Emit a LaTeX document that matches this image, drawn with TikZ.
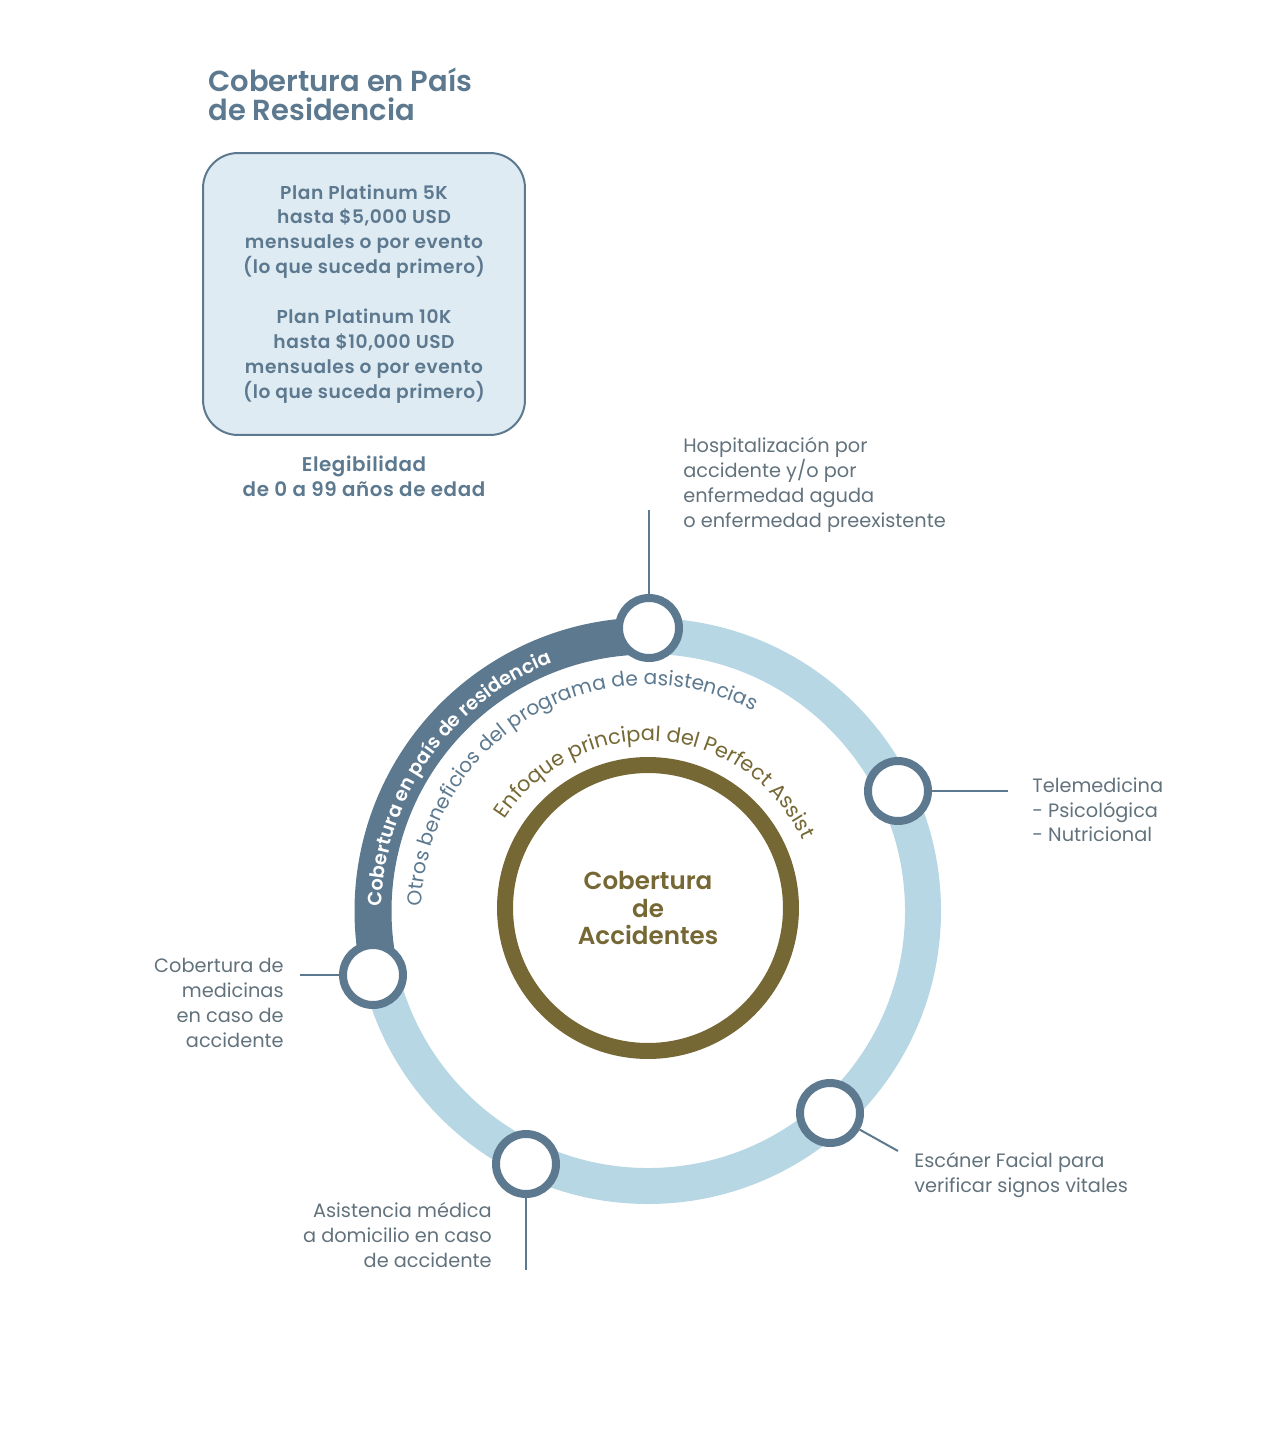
\documentclass[tikz,border=0pt]{standalone}
\usepackage{fontspec}
\setmainfont{Poppins}
\newfontfamily\semifont{Poppins SemiBold}
\usepackage{xcolor}
\definecolor{slate}{RGB}{92,121,143}
\definecolor{ringblue}{RGB}{184,215,228}
\definecolor{boxblue}{RGB}{223,235,243}
\definecolor{olive}{RGB}{117,104,52}
\definecolor{txtgrey}{RGB}{98,114,124}
\usepackage{tikz}
\usetikzlibrary{decorations.text,positioning}

\begin{document}
\begin{tikzpicture}[x=0.02cm, y=0.02cm,
    ring/.style={line width=0.72cm, ringblue},
    arcdark/.style={line width=0.74cm, slate},
    hub/.style={circle, draw=olive, line width=0.32cm,
                minimum size=5.72cm, inner sep=0pt,
                align=center, text=olive,
                font=\fontsize{14}{15.9}\selectfont\semifont},
    stn/.style={circle, draw=slate, line width=0.16cm, fill=white,
                minimum size=1.2cm, inner sep=0pt},
    link/.style={slate, line width=0.04cm},
    lbl/.style={inner sep=0pt, align=left, text=txtgrey,
                font=\fontsize{11}{14.2}\selectfont},
    lblr/.style={lbl, align=right},
    plan/.style={rectangle, rounded corners=0.7cm, draw=slate, fill=boxblue,
                 line width=0.04cm, minimum width=6.44cm, minimum height=5.64cm,
                 align=center, text=slate,
                 font=\fontsize{10.6}{14.2}\selectfont\semifont\addfontfeature{LetterSpace=3}},
    ttl/.style={inner sep=0pt, align=left, text=slate,
                font=\fontsize{16.5}{16.4}\selectfont\semifont},
  ]
    \useasboundingbox (0,0) rectangle (1271,-1446);

    % header and plan box
    \node[ttl, anchor=north west] (title) at (208,-68) {Cobertura en País\\de Residencia};
    \node[plan] (plans) at (364,-294) {Plan Platinum 5K\\hasta \$5,000 USD\\mensuales o por evento\\(lo que suceda primero)\\[14.2pt]
      Plan Platinum 10K\\hasta \$10,000 USD\\mensuales o por evento\\(lo que suceda primero)};
    \node[lbl, align=center, text=slate,
          font=\fontsize{11.3}{14.2}\selectfont\semifont\addfontfeature{LetterSpace=3},
          below=0.4cm of plans] (elig) {Elegibilidad\\de 0 a 99 años de edad};

    % rings
    \draw[ring] (648,-911) circle[radius=275];
    \draw[arcdark] (648,-911) ++(90:275) arc[start angle=90, end angle=193, radius=275];
    \node[hub] (core) at (648,-908) {Cobertura\\de\\Accidentes};

    % curved captions
    \path[decorate, decoration={text along path, text align=center,
      text={|\fontsize{11}{12}\selectfont\semifont\color{white}|Cobertura en país de residencia}}]
      (648,-911) ++(195:266) arc[start angle=195, end angle=95, radius=266];
    \path[decorate, decoration={text along path, text align=center,
      text={|\fontsize{11.5}{12}\selectfont\color{slate}|Otros beneficios del programa de asistencias}}]
      (648,-911) ++(190:226) arc[start angle=190, end angle=51, radius=226];
    \path[decorate, decoration={text along path, text align=center,
      text={|\fontsize{11.9}{12}\selectfont\color{olive}|Enfoque principal del Perfect Assist}}]
      (648,-911) ++(160:170) arc[start angle=160, end angle=12, radius=170];

    % stations
    \node[stn] (hosp) at (649,-628) {};
    \node[stn] (tele) at (898,-791) {};
    \node[stn] (scan) at (830,-1113) {};
    \node[stn] (home) at (526,-1164) {};
    \node[stn] (meds) at (373,-975) {};

    \coordinate (hospend) at (649,-510);
    \coordinate (teleend) at (1008,-791);
    \coordinate (scanend) at (898,-1151);
    \coordinate (homeend) at (526,-1270);
    \coordinate (medsend) at (300,-975);

    \draw[link] (hospend) -- (hosp);
    \draw[link] (tele) -- (teleend);
    \draw[link] (scan) -- (scanend);
    \draw[link] (home) -- (homeend);
    \draw[link] (medsend) -- (meds);

    % labels
    \node[lbl, anchor=north west] (hospl) at (683,-437)
      {Hospitalización por\\accidente y/o por\\enfermedad aguda\\o enfermedad preexistente};
    \node[lbl, anchor=north west] (telel) at (1032,-777)
      {Telemedicina\\- Psicológica\\- Nutricional};
    \node[lbl, anchor=north west] (scanl) at (914,-1152)
      {Escáner Facial para\\verificar signos vitales};
    \node[lblr, anchor=north east] (homel) at (492,-1202)
      {Asistencia médica\\a domicilio en caso\\de accidente};
    \node[lblr, anchor=north east] (medsl) at (284,-958)
      {Cobertura de\\medicinas\\en caso de\\accidente};
  \end{tikzpicture}
\end{document}
